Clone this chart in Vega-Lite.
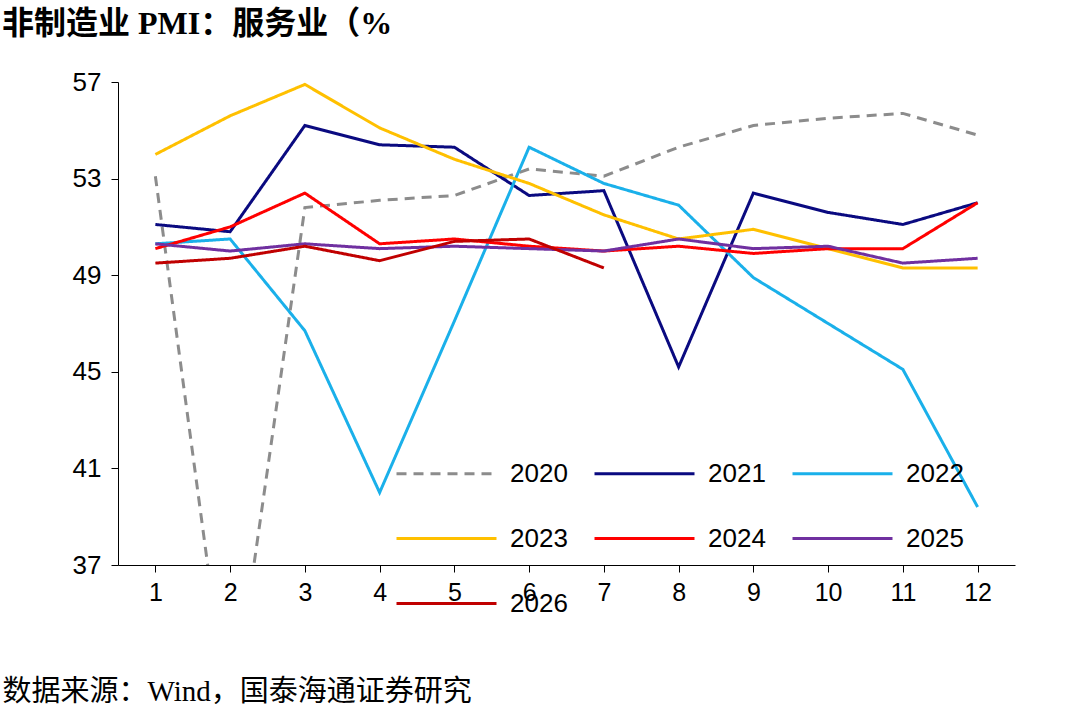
{
  "$schema": "https://vega.github.io/schema/vega-lite/v6.json",
  "width": 897,
  "height": 483,
  "autosize": "none",
  "padding": {"left": 118, "top": 82, "right": 65, "bottom": 163},
  "background": "white",
  "title": {
    "text": "非制造业 PMI：服务业（%",
    "anchor": "start",
    "frame": "group",
    "dx": -116,
    "offset": 28,
    "font": "Liberation Serif, Noto Sans CJK SC",
    "fontSize": 32,
    "fontWeight": "bold",
    "color": "black"
  },
  "data": {
    "values": [
      {"m": 1, "year": "2020", "v": 53.1}, {"m": 2, "year": "2020", "v": 30.1}, {"m": 3, "year": "2020", "v": 51.8},
      {"m": 4, "year": "2020", "v": 52.1}, {"m": 5, "year": "2020", "v": 52.3}, {"m": 6, "year": "2020", "v": 53.4},
      {"m": 7, "year": "2020", "v": 53.1}, {"m": 8, "year": "2020", "v": 54.3}, {"m": 9, "year": "2020", "v": 55.2},
      {"m": 10, "year": "2020", "v": 55.5}, {"m": 11, "year": "2020", "v": 55.7}, {"m": 12, "year": "2020", "v": 54.8},
      {"m": 1, "year": "2021", "v": 51.1}, {"m": 2, "year": "2021", "v": 50.8}, {"m": 3, "year": "2021", "v": 55.2},
      {"m": 4, "year": "2021", "v": 54.4}, {"m": 5, "year": "2021", "v": 54.3}, {"m": 6, "year": "2021", "v": 52.3},
      {"m": 7, "year": "2021", "v": 52.5}, {"m": 8, "year": "2021", "v": 45.2}, {"m": 9, "year": "2021", "v": 52.4},
      {"m": 10, "year": "2021", "v": 51.6}, {"m": 11, "year": "2021", "v": 51.1}, {"m": 12, "year": "2021", "v": 52.0},
      {"m": 1, "year": "2022", "v": 50.3}, {"m": 2, "year": "2022", "v": 50.5}, {"m": 3, "year": "2022", "v": 46.7},
      {"m": 4, "year": "2022", "v": 40.0}, {"m": 5, "year": "2022", "v": 47.1}, {"m": 6, "year": "2022", "v": 54.3},
      {"m": 7, "year": "2022", "v": 52.8}, {"m": 8, "year": "2022", "v": 51.9}, {"m": 9, "year": "2022", "v": 48.9},
      {"m": 10, "year": "2022", "v": 47.0}, {"m": 11, "year": "2022", "v": 45.1}, {"m": 12, "year": "2022", "v": 39.4},
      {"m": 1, "year": "2023", "v": 54.0}, {"m": 2, "year": "2023", "v": 55.6}, {"m": 3, "year": "2023", "v": 56.9},
      {"m": 4, "year": "2023", "v": 55.1}, {"m": 5, "year": "2023", "v": 53.8}, {"m": 6, "year": "2023", "v": 52.8},
      {"m": 7, "year": "2023", "v": 51.5}, {"m": 8, "year": "2023", "v": 50.5}, {"m": 9, "year": "2023", "v": 50.9},
      {"m": 10, "year": "2023", "v": 50.1}, {"m": 11, "year": "2023", "v": 49.3}, {"m": 12, "year": "2023", "v": 49.3},
      {"m": 1, "year": "2024", "v": 50.1}, {"m": 2, "year": "2024", "v": 51.0}, {"m": 3, "year": "2024", "v": 52.4},
      {"m": 4, "year": "2024", "v": 50.3}, {"m": 5, "year": "2024", "v": 50.5}, {"m": 6, "year": "2024", "v": 50.2},
      {"m": 7, "year": "2024", "v": 50.0}, {"m": 8, "year": "2024", "v": 50.2}, {"m": 9, "year": "2024", "v": 49.9},
      {"m": 10, "year": "2024", "v": 50.1}, {"m": 11, "year": "2024", "v": 50.1}, {"m": 12, "year": "2024", "v": 52.0},
      {"m": 1, "year": "2025", "v": 50.3}, {"m": 2, "year": "2025", "v": 50.0}, {"m": 3, "year": "2025", "v": 50.3},
      {"m": 4, "year": "2025", "v": 50.1}, {"m": 5, "year": "2025", "v": 50.2}, {"m": 6, "year": "2025", "v": 50.1},
      {"m": 7, "year": "2025", "v": 50.0}, {"m": 8, "year": "2025", "v": 50.5}, {"m": 9, "year": "2025", "v": 50.1},
      {"m": 10, "year": "2025", "v": 50.2}, {"m": 11, "year": "2025", "v": 49.5}, {"m": 12, "year": "2025", "v": 49.7},
      {"m": 1, "year": "2026", "v": 49.5}, {"m": 2, "year": "2026", "v": 49.7}, {"m": 3, "year": "2026", "v": 50.2},
      {"m": 4, "year": "2026", "v": 49.6}, {"m": 5, "year": "2026", "v": 50.4}, {"m": 6, "year": "2026", "v": 50.5},
      {"m": 7, "year": "2026", "v": 49.3}
    ]
  },
  "mark": {"type": "line", "clip": true},
  "encoding": {
    "x": {
      "field": "m", "type": "ordinal",
      "scale": {"type": "point", "padding": 0.5},
      "axis": {
        "labelAngle": 0, "labelFontSize": 25, "labelFont": "Liberation Sans", "labelColor": "black",
        "labelPadding": 8, "domainColor": "black", "tickColor": "black", "tickSize": 7,
        "title": "数据来源：Wind，国泰海通证券研究",
        "titleFont": "Liberation Serif, Noto Sans CJK SC", "titleFontSize": 29, "titleFontWeight": "normal",
        "titleColor": "black", "titleAnchor": "start", "titleAlign": "left",
        "titleX": -116, "titleY": 112
      }
    },
    "y": {
      "field": "v", "type": "quantitative",
      "scale": {"domain": [37, 57], "nice": false, "zero": false},
      "axis": {
        "values": [37, 41, 45, 49, 53, 57], "grid": false, "title": null,
        "labelFontSize": 26, "labelFont": "Liberation Sans", "labelColor": "black", "labelPadding": 10,
        "domainColor": "black", "tickColor": "black", "tickSize": 7
      }
    },
    "color": {
      "field": "year", "type": "nominal",
      "scale": {
        "domain": ["2020", "2021", "2022", "2023", "2024", "2025", "2026"],
        "range": ["#8c8c8c", "#0a0a80", "#1ab0ea", "#ffc000", "#ff0000", "#7030a0", "#c00000"]
      },
      "legend": {
        "orient": "none", "legendX": 277, "legendY": 340, "columns": 3, "direction": "horizontal", "title": null,
        "symbolType": "stroke", "symbolSize": 10000, "labelFontSize": 26, "labelFont": "Liberation Sans",
        "labelColor": "black", "rowPadding": -58, "columnPadding": 20, "labelOffset": 12
      }
    },
    "strokeDash": {
      "field": "year", "type": "nominal",
      "scale": {
        "domain": ["2020", "2021", "2022", "2023", "2024", "2025", "2026"],
        "range": [[10, 7], [1, 0], [1, 0], [1, 0], [1, 0], [1, 0], [1, 0]]
      },
      "legend": {
        "orient": "none", "legendX": 277, "legendY": 340, "columns": 3, "direction": "horizontal", "title": null,
        "symbolType": "stroke", "symbolSize": 10000, "labelFontSize": 26, "labelFont": "Liberation Sans",
        "labelColor": "black", "rowPadding": -58, "columnPadding": 20, "labelOffset": 12
      }
    },
    "strokeWidth": {
      "field": "year", "type": "nominal",
      "scale": {
        "domain": ["2020", "2021", "2022", "2023", "2024", "2025", "2026"],
        "range": [3, 3, 3, 3, 3, 3, 7]
      },
      "legend": {
        "orient": "none", "legendX": 277, "legendY": 340, "columns": 3, "direction": "horizontal", "title": null,
        "symbolType": "stroke", "symbolSize": 10000, "labelFontSize": 26, "labelFont": "Liberation Sans",
        "labelColor": "black", "rowPadding": -58, "columnPadding": 20, "labelOffset": 12
      }
    }
  },
  "config": {"view": {"stroke": null}}
}
